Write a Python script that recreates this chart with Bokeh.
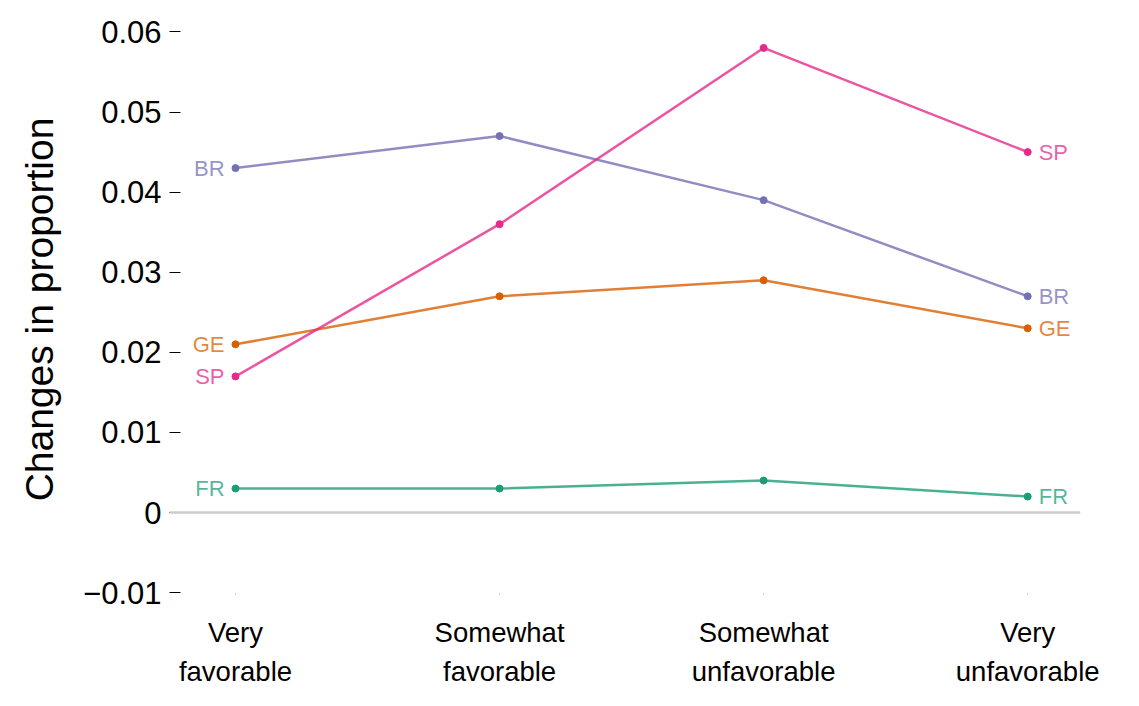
from bokeh.plotting import figure
from bokeh.models import FixedTicker, CustomJSTickFormatter, Span, ColumnDataSource
from bokeh.core.properties import value
from bokeh.embed import file_html
from bokeh.resources import INLINE

categories = ["Very\nfavorable", "Somewhat\nfavorable", "Somewhat\nunfavorable", "Very\nunfavorable"]
countries = ["BR", "GE", "SP", "FR"]
br = [0.043, 0.047, 0.039, 0.027]
ge = [0.021, 0.027, 0.029, 0.023]
sp = [0.017, 0.036, 0.058, 0.045]
fr = [0.003, 0.003, 0.004, 0.002]
y_ticks = [-0.01, 0.0, 0.01, 0.02, 0.03, 0.04, 0.05, 0.06]

series = {"BR": br, "GE": ge, "SP": sp, "FR": fr}
point_colors = {"BR": "#7570b3", "GE": "#d95f02", "SP": "#e7298a", "FR": "#1b9e77"}

FONT = "Liberation Sans"
W, H = 1125, 695
BL, BT = 169, 25
FW, FH = 911, 568

p = figure(width=W, height=H, output_backend="svg", toolbar_location=None,
           x_range=(-0.25, 3.2), y_range=(-0.0101, 0.0608),
           min_border_left=BL, min_border_right=W - BL - FW,
           min_border_top=BT, min_border_bottom=H - BT - FH)
p.background_fill_color = "white"
p.border_fill_color = "white"
p.outline_line_color = None
p.xgrid.grid_line_color = None
p.ygrid.grid_line_color = None

xs = list(range(len(categories)))

p.add_layout(Span(location=0, dimension="width", line_color="#cccccc", line_width=2.5))

for name in countries:
    vals = series[name]
    c = point_colors[name]
    src = ColumnDataSource(dict(x=xs, y=vals))
    p.line("x", "y", source=src, line_color=c, line_alpha=0.8, line_width=2.5)
    p.scatter("x", "y", source=src, size=7, fill_color=c, line_color=c)
    lsrc = ColumnDataSource(dict(x=[xs[0]], y=[vals[0]], t=[name]))
    p.text("x", "y", text="t", source=lsrc, x_offset=-11, text_align="right",
           text_baseline="middle", text_color=c, text_alpha=0.75,
           text_font=value(FONT), text_font_size="22px")
    rsrc = ColumnDataSource(dict(x=[xs[-1]], y=[vals[-1]], t=[name]))
    p.text("x", "y", text="t", source=rsrc, x_offset=11, text_align="left",
           text_baseline="middle", text_color=c, text_alpha=0.75,
           text_font=value(FONT), text_font_size="22px")

# x axis
p.xaxis.ticker = FixedTicker(ticks=xs)
p.xaxis.major_label_overrides = {i: categories[i] for i in xs}
p.xaxis.axis_line_color = None
p.xaxis.major_tick_in = 0
p.xaxis.major_tick_out = 1
p.xaxis.major_tick_line_color = "#999999"
p.xaxis.minor_tick_line_color = None
p.xaxis.major_label_text_font = FONT
p.xaxis.major_label_text_font_size = "27.5px"
p.xaxis.major_label_text_color = "black"
p.xaxis.major_label_text_line_height = 1.28
p.xaxis.major_label_standoff = 22

# y axis
p.yaxis.ticker = FixedTicker(ticks=y_ticks)
p.yaxis.formatter = CustomJSTickFormatter(code="""
if (Math.abs(tick) < 1e-9) return "0";
return (tick < 0 ? "\u2212" : "") + Math.abs(tick).toFixed(2);
""")
p.yaxis.axis_line_color = None
p.yaxis.major_tick_in = 11
p.yaxis.major_tick_out = 0
p.yaxis.major_tick_line_color = "black"
p.yaxis.minor_tick_line_color = None
p.yaxis.major_label_text_font = FONT
p.yaxis.major_label_text_font_size = "31px"
p.yaxis.major_label_text_color = "black"
p.yaxis.major_label_standoff = 8
p.yaxis.axis_label = "Changes in proportion"
p.yaxis.axis_label_text_font = FONT
p.yaxis.axis_label_text_font_size = "39px"
p.yaxis.axis_label_text_font_style = "normal"
p.yaxis.axis_label_text_color = "black"
p.yaxis.axis_label_standoff = 19

open("out.html", "w").write(file_html(p, INLINE))
